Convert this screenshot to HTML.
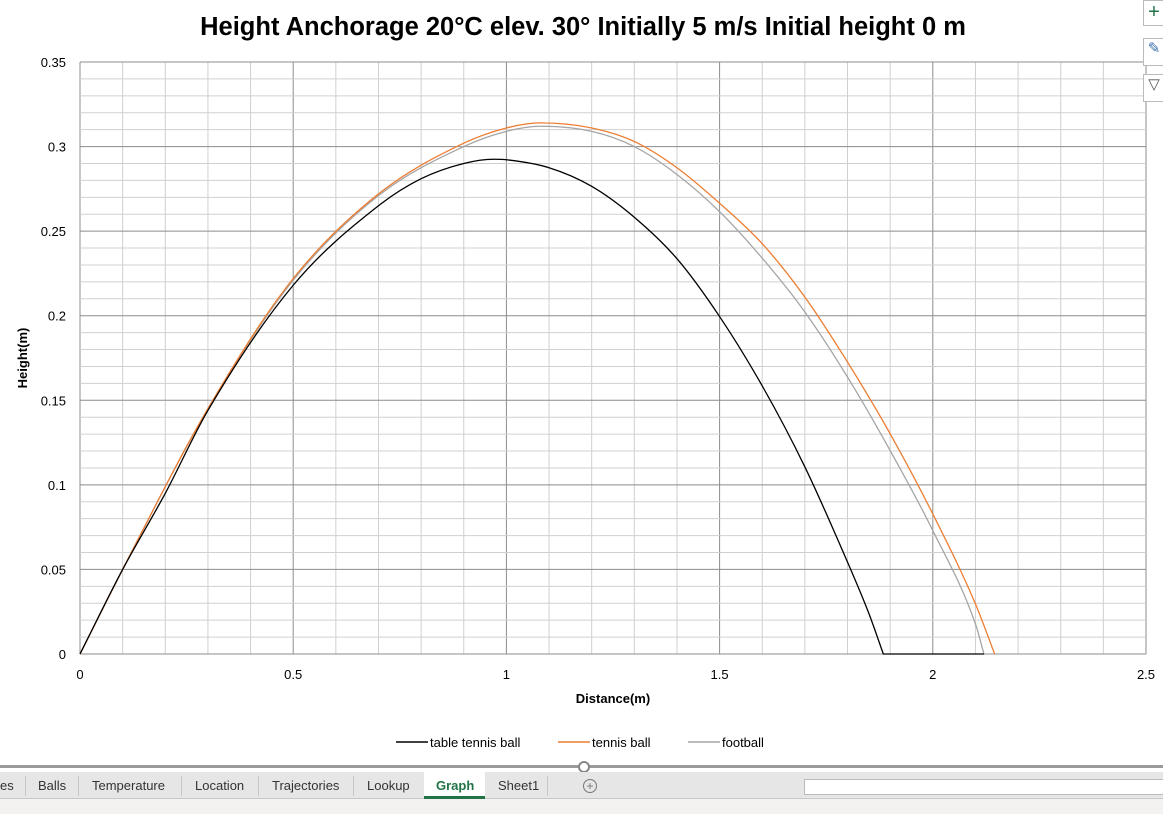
<!DOCTYPE html>
<html><head><meta charset="utf-8"><style>
body{margin:0;width:1163px;height:814px;overflow:hidden;background:#fff;font-family:"Liberation Sans",sans-serif;position:relative}
.tab{position:absolute;top:778px;font-size:13px;color:#333}
.sep{position:absolute;top:776px;width:1px;height:20px;background:#c8c8c8}
</style></head><body>
<svg id="chart" width="1163" height="814" style="position:absolute;left:0;top:0">
<text x="583" y="35" text-anchor="middle" font-size="25.5" font-weight="bold" font-family="Liberation Sans, sans-serif">Height Anchorage 20°C elev. 30° Initially 5 m/s Initial height 0 m</text>
<g id="grid"></g><g id="series"></g><g id="ticks"></g>
<text x="613" y="703" text-anchor="middle" font-size="13" font-weight="bold">Distance(m)</text>
<text transform="translate(27,358) rotate(-90)" text-anchor="middle" font-size="13" font-weight="bold">Height(m)</text>
<g font-size="13">
<line x1="396" y1="742" x2="428" y2="742" stroke="#000" stroke-width="1.5"/><text x="430" y="747">table tennis ball</text>
<line x1="558" y1="742" x2="590" y2="742" stroke="#ed7d31" stroke-width="1.5"/><text x="592" y="747">tennis ball</text>
<line x1="688" y1="742" x2="720" y2="742" stroke="#a5a5a5" stroke-width="1.5"/><text x="722" y="747">football</text>
</g>
</svg>
<div style="position:absolute;left:0;top:765px;width:1163px;height:3px;background:#9a9a9a"></div>
<div style="position:absolute;left:578px;top:761px;width:8px;height:8px;border:2px solid #888;border-radius:50%;background:#fff"></div>
<div style="position:absolute;left:0;top:772px;width:1163px;height:26px;background:#e6e6e6;border-bottom:1px solid #c8c8c8"></div>
<div style="position:absolute;left:0;top:799px;width:1163px;height:15px;background:#f3f2f1"></div>
<span class="tab" style="left:0">es</span><div class="sep" style="left:25px"></div>
<span class="tab" style="left:38px">Balls</span><div class="sep" style="left:78px"></div>
<span class="tab" style="left:92px">Temperature</span><div class="sep" style="left:181px"></div>
<span class="tab" style="left:195px">Location</span><div class="sep" style="left:258px"></div>
<span class="tab" style="left:272px">Trajectories</span><div class="sep" style="left:353px"></div>
<span class="tab" style="left:367px">Lookup</span>
<div style="position:absolute;left:424px;top:772px;width:61px;height:24px;background:#fff;border-bottom:3px solid #217346"><span style="position:absolute;left:12px;top:6px;font-size:13px;font-weight:bold;color:#217346">Graph</span></div>
<span class="tab" style="left:498px">Sheet1</span><div class="sep" style="left:547px"></div>
<div style="position:absolute;left:583px;top:779px;width:12px;height:12px;border:1px solid #777;border-radius:50%;font-size:12px;line-height:12px;text-align:center;color:#777">+</div>
<div style="position:absolute;left:804px;top:779px;width:359px;height:14px;background:#fff;border:1px solid #bbb"></div>
<div style="position:absolute;left:1143px;top:0;width:20px;height:24px;border:1px solid #bbb;background:#fff;color:#217346;font-size:20px;line-height:22px;text-align:center">+</div>
<div style="position:absolute;left:1143px;top:38px;width:20px;height:26px;border:1px solid #bbb;background:#fff;color:#3a6fb0;font-size:15px;text-align:center">✎</div>
<div style="position:absolute;left:1143px;top:74px;width:20px;height:26px;border:1px solid #bbb;background:#fff;color:#555;font-size:15px;text-align:center">▽</div>
<script>
const xTicks=[0,0.5,1,1.5,2,2.5];
const yTicks=[0,0.05,0.1,0.15,0.2,0.25,0.3,0.35];
const ttX=[0,0.1,0.2,0.3,0.5,0.7,0.8,0.9,0.97,1.0,1.1,1.2,1.3,1.4,1.5,1.6,1.7,1.8,1.85,1.884,2.12];
const ttY=[0,0.05,0.095,0.144,0.218,0.265,0.281,0.290,0.2925,0.2922,0.2875,0.2765,0.2582,0.2337,0.1995,0.1585,0.1106,0.0543,0.0240,0,0];
const tbX=[0,0.1,0.3,0.5,0.7,0.9,1.0,1.08,1.2,1.3,1.4,1.5,1.6,1.7,1.8,1.9,2.0,2.1,2.145];
const tbY=[0,0.05,0.145,0.222,0.272,0.302,0.311,0.314,0.311,0.303,0.2875,0.2665,0.2426,0.2110,0.1726,0.1302,0.0828,0.0296,0];
const fbX=[0,0.1,0.3,0.5,0.7,0.9,1.0,1.08,1.2,1.3,1.4,1.5,1.6,1.7,1.8,1.9,2.0,2.1,2.12];
const fbY=[0,0.05,0.145,0.221,0.271,0.300,0.309,0.312,0.309,0.300,0.2835,0.2615,0.2340,0.2022,0.1637,0.1203,0.0730,0.0178,0];
const X0=80,X1=1146,Y0=654,Y1=62;
const sx=v=>X0+v/2.5*(X1-X0), sy=v=>Y0-v/0.35*(Y0-Y1);
const NS="http://www.w3.org/2000/svg";
function mk(t,a,p){const e=document.createElementNS(NS,t);for(const k in a)e.setAttribute(k,a[k]);p.appendChild(e);return e;}
const grid=document.getElementById('grid'),ticks=document.getElementById('ticks'),ser=document.getElementById('series');
for(let i=0;i<=25;i++){const x=sx(i*0.1);const l=mk('line',{x1:x,x2:x,y1:Y1,y2:Y0,stroke:i%5?'#d0d0d0':'#8c8c8c','stroke-width':1},grid);

}
for(let i=0;i<=35;i++){const y=sy(i*0.01);const l=mk('line',{x1:X0,x2:X1,y1:y,y2:y,stroke:i%5?'#d0d0d0':'#8c8c8c','stroke-width':1},grid);

}
xTicks.forEach(v=>{const t=mk('text',{x:sx(v),y:679,'text-anchor':'middle','font-size':13},ticks);t.textContent=v;

});
yTicks.forEach(v=>{const t=mk('text',{x:66,y:sy(v)+5,'text-anchor':'end','font-size':13},ticks);t.textContent=v;

});
function path(xs,ys){
  const X=xs.map(sx),Y=ys.map(sy),n=X.length;
  const d=[],m=new Array(n),flat=[];
  for(let i=0;i<n-1;i++){d.push((Y[i+1]-Y[i])/(X[i+1]-X[i]));flat.push(ys[i]===0&&ys[i+1]===0&&i>0);}
  m[0]=d[0];m[n-1]=d[n-2];
  for(let i=1;i<n-1;i++){
    if(flat[i]){m[i]=d[i-1];continue;}
    if(flat[i-1]){m[i]=d[i];continue;}
    m[i]=(d[i-1]*d[i]<=0)?0:(d[i-1]+d[i])/2;}
  for(let i=0;i<n-1;i++){if(flat[i]||d[i]===0)continue;
    const a=m[i]/d[i],b=m[i+1]/d[i],s=a*a+b*b;if(s>9){const t=3/Math.sqrt(s);m[i]=t*a*d[i];m[i+1]=t*b*d[i];}}
  let p='M'+X[0]+','+Y[0];
  for(let i=0;i<n-1;i++){
    if(flat[i]){p+=' L'+X[i+1]+','+Y[i+1];continue;}
    const h=(X[i+1]-X[i])/3;
    p+=' C'+(X[i]+h)+','+(Y[i]+m[i]*h)+' '+(X[i+1]-h)+','+(Y[i+1]-m[i+1]*h)+' '+X[i+1]+','+Y[i+1];}
  return p;}
[[fbX,fbY,'#a5a5a5','football-line'],[tbX,tbY,'#ed7d31','tennis-ball-line'],[ttX,ttY,'#000','table-tennis-ball-line']].forEach(s=>{
const p=mk('path',{d:path(s[0],s[1]),fill:'none',stroke:s[2],'stroke-width':1.3},ser);

});
</script>
</body></html>
